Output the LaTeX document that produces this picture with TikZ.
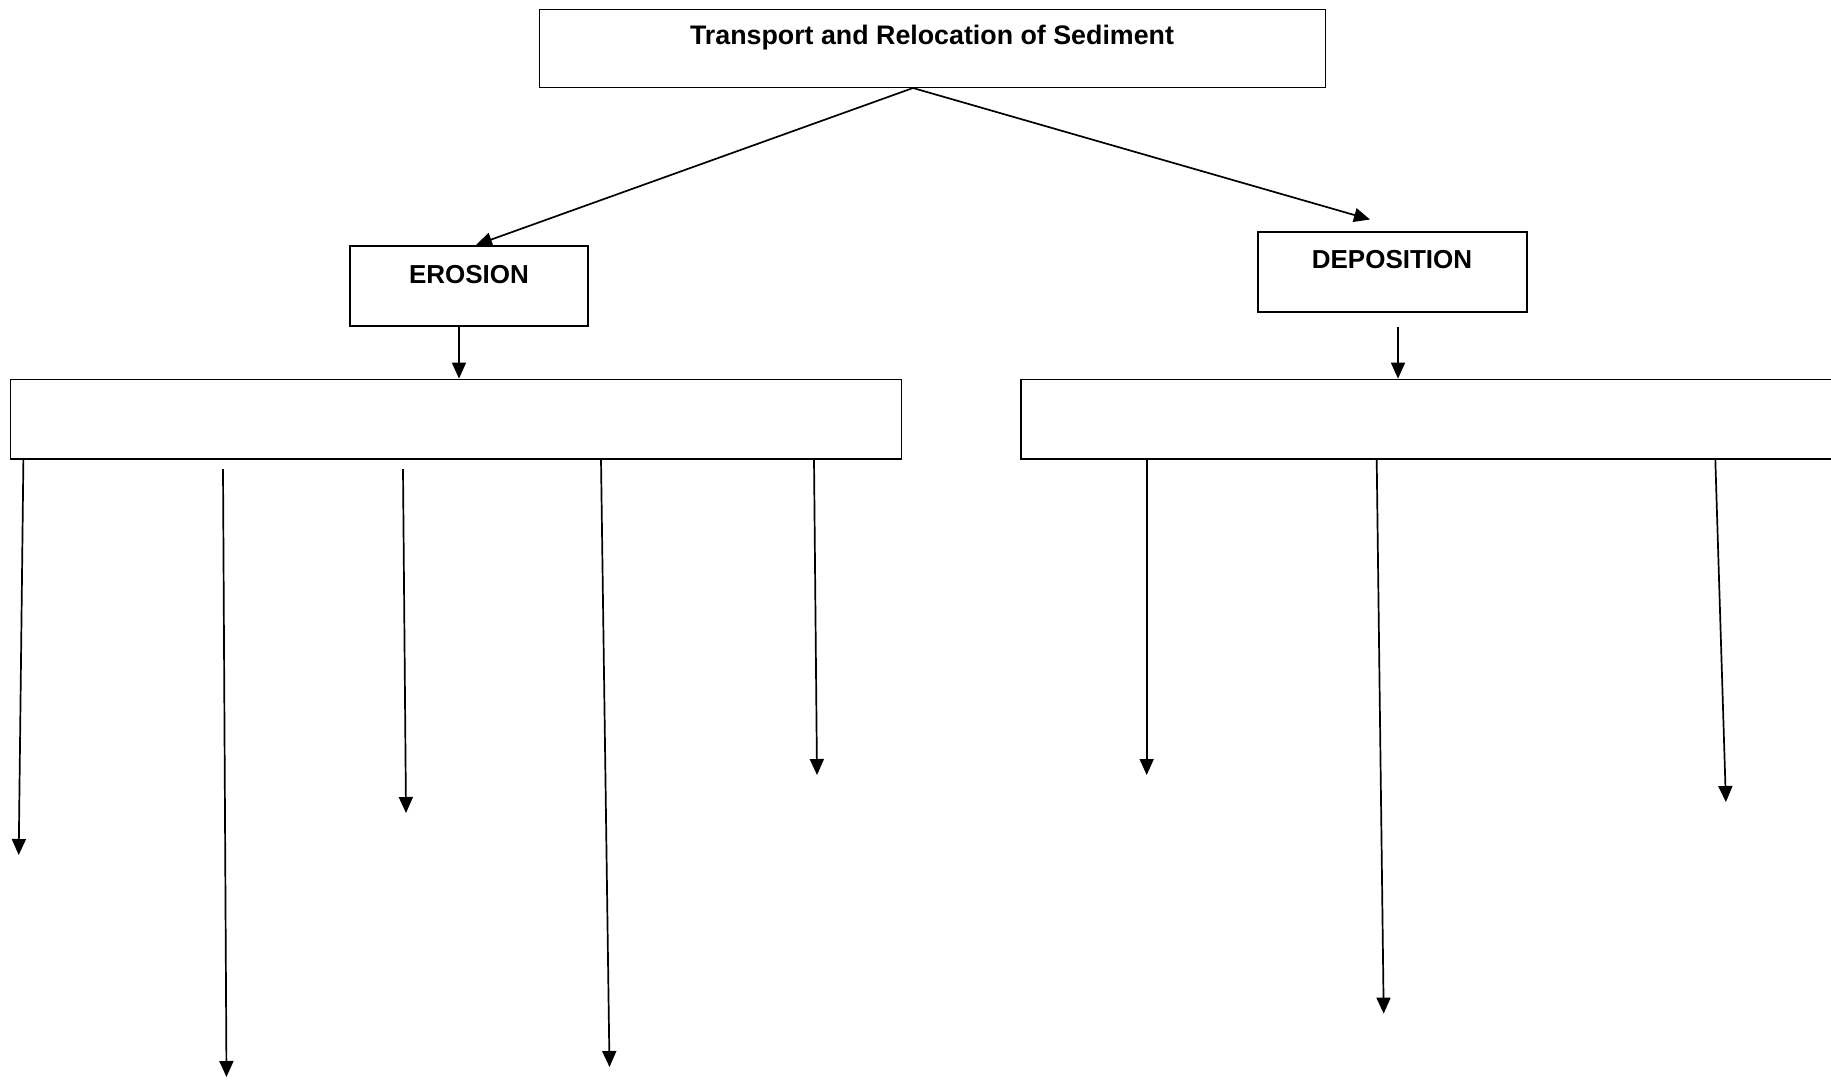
\documentclass[tikz,border=0pt]{standalone}
\usepackage{fontspec}
\setmainfont{Liberation Sans}
\usetikzlibrary{arrows.meta,calc}
\begin{document}
\begin{tikzpicture}[x=1pt,y=-1pt,
  box/.style={draw, line width=1.8pt, inner sep=0pt},
  title/.style={font=\bfseries\fontsize{26}{30}\selectfont, inner sep=0pt, anchor=base},
  arr/.style={line width=1.7pt, -{Triangle[length=16pt,width=14pt]}}]
\clip (0,0) rectangle (1831,1079);
\fill[white] (0,0) rectangle (1831,1079);

% boxes
\node[box, minimum width=786pt, minimum height=78pt] (top) at (932.5,48.5) {};
\node[box, minimum width=238pt, minimum height=80pt] (ero) at (469,286) {};
\node[box, minimum width=269pt, minimum height=80pt] (dep) at (1392.5,272) {};
\node[box, minimum width=891pt, minimum height=79.5pt] (lbox) at (456,419.25) {};
\node[box, minimum width=840pt, minimum height=79.5pt] (rbox) at (1440.6,419.25) {};

% headings
\node[title, font=\bfseries\fontsize{26.8}{30}\selectfont] (ttop) at (932,44) {Transport and Relocation of Sediment};
\node[title] (tero) at (469,283) {EROSION};
\node[title] (tdep) at (1392,268) {DEPOSITION};

% branch points
\coordinate (split) at (913,88);
\coordinate (eroin) at (476,245);
\coordinate (depin) at (1370,219.5);
\coordinate (ex) at (459,0);
\coordinate (dx) at (1398,0);

\draw[arr] (split) -- (eroin);
\draw[arr] (split) -- (depin);
\draw[arr] (ero.south -| ex) -- (lbox.north -| ex);
\draw[arr] ($(dep.south -| dx)+(0,14)$) -- (rbox.north -| dx);

% erosion outcomes
\coordinate (a1) at (23.4,459);   \coordinate (b1) at (18.7,855);
\coordinate (a2) at (223,469);    \coordinate (b2) at (226.5,1077);
\coordinate (a3) at (403,469);    \coordinate (b3) at (406,813);
\coordinate (a4) at (601,459);    \coordinate (b4) at (609.5,1067);
\coordinate (a5) at (814,459);    \coordinate (b5) at (817,775);
% deposition outcomes
\coordinate (a6) at (1146.7,459); \coordinate (b6) at (1146.7,775);
\coordinate (a7) at (1376.7,459); \coordinate (b7) at (1383.7,1013.6);
\coordinate (a8) at (1715.3,459); \coordinate (b8) at (1725.9,802);

\foreach \i in {1,...,8} \draw[arr] (a\i) -- (b\i);
\end{tikzpicture}
\end{document}
